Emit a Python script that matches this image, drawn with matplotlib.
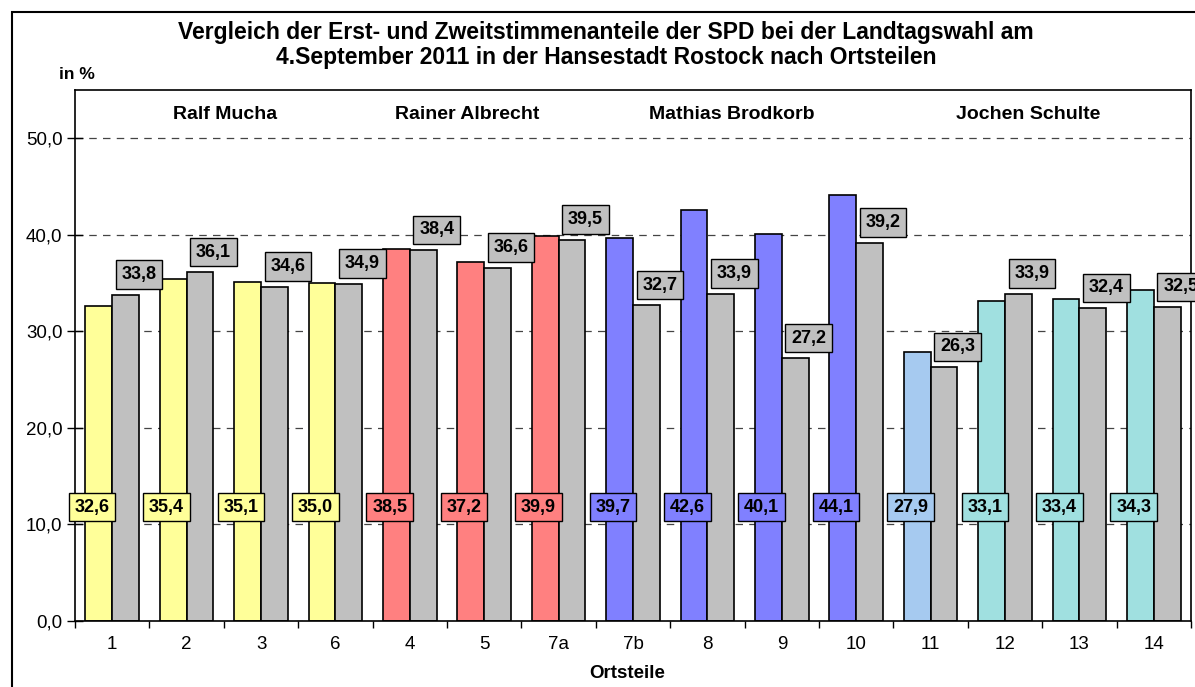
import matplotlib
matplotlib.use("Agg")
import matplotlib.pyplot as plt
from matplotlib.patches import Rectangle
import numpy as np

plt.rcParams['font.family'] = ['Liberation Sans', 'DejaVu Sans']

ortsteile = ["1", "2", "3", "6", "4", "5", "7a", "7b", "8", "9", "10", "11", "12", "13", "14"]
erststimmen = [32.6, 35.4, 35.1, 35.0, 38.5, 37.2, 39.9, 39.7, 42.6, 40.1, 44.1, 27.9, 33.1, 33.4, 34.3]
zweitstimmen = [33.8, 36.1, 34.6, 34.9, 38.4, 36.6, 39.5, 32.7, 33.9, 27.2, 39.2, 26.3, 33.9, 32.4, 32.5]
farben = ["#FFFF99"] * 4 + ["#FF8080"] * 3 + ["#8080FF"] * 4 + ["#A6CAF0"] + ["#A0E0E0"] * 3
kandidaten = ["Ralf Mucha", "Rainer Albrecht", "Mathias Brodkorb", "Jochen Schulte"]
kandidaten_x = [1.52, 4.77, 8.32, 12.31]

fig = plt.figure(figsize=(11.95, 6.87), dpi=100)
ax = fig.add_axes([0.0628, 0.0961, 0.9339, 0.7729])

x = np.arange(len(ortsteile))
w = 0.36
ax.bar(x - w / 2, erststimmen, w, color=farben, edgecolor="black", linewidth=1.2, zorder=2)
ax.bar(x + w / 2, zweitstimmen, w, color="#C0C0C0", edgecolor="black", linewidth=1.2, zorder=2)

def fmt(v):
	return f"{v:.1f}".replace(".", ",")

for i in range(len(x)):
	ax.text(x[i] - 0.27, 11.8, fmt(erststimmen[i]), ha="center", va="center", fontsize=13,
		fontweight="bold", zorder=4,
		bbox=dict(boxstyle="square,pad=0.32", facecolor=farben[i], edgecolor="black", linewidth=1))
	ax.text(x[i] + w, zweitstimmen[i] + 2.1, fmt(zweitstimmen[i]), ha="center", va="center", fontsize=13,
		fontweight="bold", zorder=4,
		bbox=dict(boxstyle="square,pad=0.32", facecolor="#C0C0C0", edgecolor="black", linewidth=1))

for name, kx in zip(kandidaten, kandidaten_x):
	ax.text(kx, 52.5, name, ha="center", va="center", fontsize=14, fontweight="bold")

ax.set_xlim(-0.5, len(x) - 0.5)
ax.set_ylim(0, 55)
ax.set_yticks([0, 10, 20, 30, 40, 50])
ax.set_yticklabels([fmt(v) for v in [0, 10, 20, 30, 40, 50]], fontsize=13.5)
ax.tick_params(axis="y", direction="inout", length=12, width=1, pad=3)
ax.set_xticks(x)
ax.set_xticklabels(ortsteile, fontsize=13.5)
ax.tick_params(axis="x", which="major", length=0, pad=11)
ax.set_xticks(np.arange(len(x) + 1) - 0.5, minor=True)
ax.tick_params(axis="x", which="minor", direction="out", length=5, width=1)
ax.yaxis.grid(True, linestyle=(0, (6, 5)), color="#444444", linewidth=0.9)
ax.set_axisbelow(True)
for s in ax.spines.values():
	s.set_linewidth(1.2)

fig.text(0.507, 0.934, "Vergleich der Erst- und Zweitstimmenanteile der SPD bei der Landtagswahl am\n"
	"4.September 2011 in der Hansestadt Rostock nach Ortsteilen",
	ha="center", va="center", fontsize=16.5, fontweight="bold", linespacing=1.1)
fig.text(0.064, 0.891, "in %", ha="center", va="center", fontsize=12.5, fontweight="bold")
fig.text(0.525, 0.019, "Ortsteile", ha="center", va="center", fontsize=13.5, fontweight="bold")

fig.patches.append(Rectangle((12 / 1195, -0.05), 1.1, 1.05 - 12 / 687, transform=fig.transFigure,
	fill=False, edgecolor="black", linewidth=1.5))

fig.savefig("out.png", dpi=100)
